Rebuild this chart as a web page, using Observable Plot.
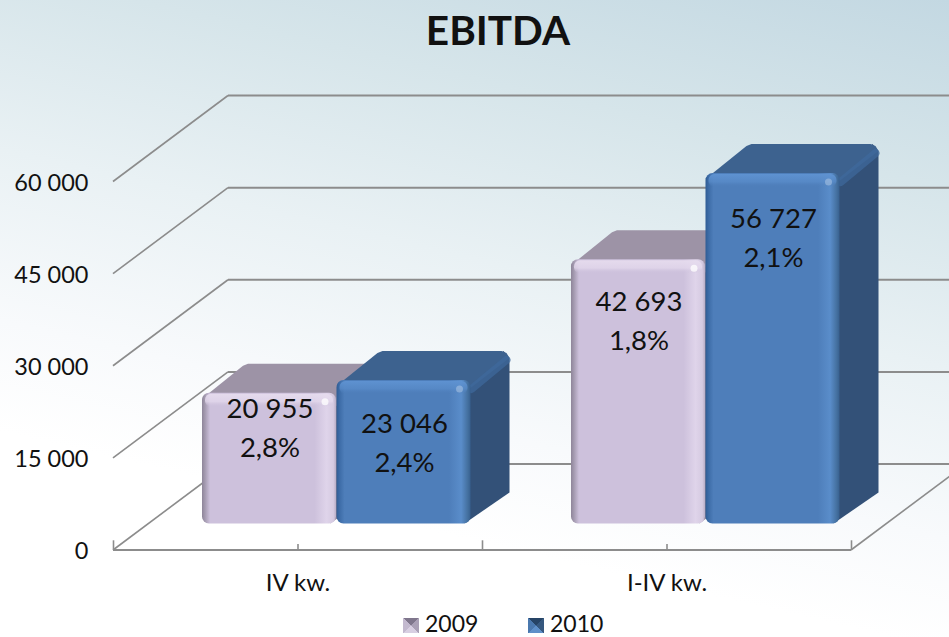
<!DOCTYPE html>
<html lang="pl">
<head>
<meta charset="utf-8">
<script src="https://cdn.jsdelivr.net/npm/d3@7"></script>
<script src="https://cdn.jsdelivr.net/npm/@observablehq/plot@0.6"></script>
<style>
  html, body { margin: 0; padding: 0; width: 949px; height: 637px; overflow: hidden; }
  body { background: linear-gradient(193deg, #c3d8e2 0%, #d6e5ea 22%, #e9f1f4 43%, #f8fafc 63%, #ffffff 76%); font-family: Lato, sans-serif; color: #111; }
  #title { height: 62px; line-height: 59px; text-align: center; font-weight: 700; font-size: 40.5px; padding-left: 47px; box-sizing: border-box; }
  #legend { position: relative; height: 25px; font-size: 23px; }
  .item { position: absolute; top: 0px; line-height: 22px; }
  .sw { position: absolute; top: 6px; width: 16px; height: 15px; }
</style>
</head>
<body>
<div id="title">EBITDA</div>
<div id="chart"></div>
<div id="legend">
  <span class="sw" style="left:403px;background:conic-gradient(from 45deg,#aaa0b6 0 25%,#d8cfe2 0 50%,#c3b9cf 0 75%,#7f768c 0)"></span>
  <span class="item" style="left:425px">2009</span>
  <span class="sw" style="left:528px;background:conic-gradient(from 45deg,#36587f 0 25%,#5f90c9 0 50%,#4a78ae 0 75%,#264466 0)"></span>
  <span class="item" style="left:550px">2010</span>
</div>
<script>
const categories = ["IV kw.", "I-IV kw."];
const values2009 = [20955, 42693];
const values2010 = [23046, 56727];
const share2009 = ["2,8%", "1,8%"];
const share2010 = ["2,4%", "2,1%"];
const yTicks = [0, 15000, 30000, 45000, 60000];

// 3D projection of the chart box, in pixels
const depthX = 115, depthY = 86;      // floor front to back wall
const floorX = 39, floorY = 26;       // floor front to bar front
const barDepthX = 39, barDepthY = 30; // bar front to bar back
const barW = 134, bandW = 369;

const fmt = d3.formatLocale({decimal: ",", thousands: " ", grouping: [3], currency: ["", ""]}).format(",d");
const NS = "http://www.w3.org/2000/svg";
const el = (name, attrs) => {
  const n = document.createElementNS(NS, name);
  for (const k in attrs) n.setAttribute(k, attrs[k]);
  return n;
};
const pts = a => a.map(p => p.join(",")).join(" ");

function defsMark() {
  const defs = el("defs", {});
  const grad = (id, stops, vertical) => {
    const g = el("linearGradient", vertical ? {id, x1: 0, x2: 0, y1: 0, y2: 1} : {id, x1: 0, x2: 1, y1: 0, y2: 0});
    stops.forEach(([o, c, a]) => g.appendChild(el("stop", {offset: o, "stop-color": c, "stop-opacity": a ?? 1})));
    defs.appendChild(g);
  };
  grad("front2009", [[0, "#8e8599"], [.025, "#a79db3"], [.06, "#cdc1dc"], [.84, "#cdc1dc"], [.93, "#dfd4ea"], [.98, "#d5cae1"], [1, "#b9aec6"]]);
  grad("front2010", [[0, "#2f5c94"], [.025, "#3e6da8"], [.06, "#4e7eba"], [.84, "#4e7eba"], [.93, "#5a8dca"], [.98, "#44709f"], [1, "#37608f"]]);
  grad("bevel2009", [[0, "#e6dcee", .95], [.6, "#e4d9ed", .75], [1, "#cdc1dc", 0]], true);
  grad("bevel2010", [[0, "#5f93d2", .95], [.6, "#5a8dcb", .7], [1, "#4e7eba", 0]], true);
  const g = el("g", {});
  g.appendChild(defs);
  return g;
}

function bar3d(series, topColor, sideColor, edgeColor) {
  return function (index, scales, values, dimensions, context, next) {
    const g = next(index, scales, values, dimensions, context);
    g.querySelectorAll("rect").forEach(r => {
      const x = +r.getAttribute("x"), y = +r.getAttribute("y"),
            w = +r.getAttribute("width"), h = +r.getAttribute("height");
      const R = x + w, B = y + h, bx = barDepthX, by = barDepthY;
      g.insertBefore(el("polygon", {fill: sideColor, points: pts([[R - 8, y + 6], [R + bx - 6, y - by + 1], [R + bx, y - by + 8], [R + bx, B - by - 1], [R - 6, B]])}), r);
      g.insertBefore(el("polygon", {fill: topColor, points: pts([[x, y + 6], [x + 41, y - by + 3], [x + 46, y - by + 1], [R + bx - 8, y - by + 1], [R + bx - 3, y - by + 3], [R + bx, y - by + 8], [R, y + 8]])}), r);
      g.insertBefore(el("line", {x1: R + 1, y1: y + 9, x2: R + bx - 3, y2: y - by + 10, stroke: edgeColor, "stroke-width": 8, "stroke-linecap": "round", "stroke-opacity": .7}), r);
      r.setAttribute("rx", 7);
      r.setAttribute("ry", 7);
      const bevel = el("rect", {x: x + 3, y: y + 1, width: w - 6, height: 13, rx: 6, fill: `url(#bevel${series})`});
      g.appendChild(bevel);
      g.appendChild(el("circle", {cx: R - 11, cy: y + 9, r: 3.5, fill: "#ffffff", "fill-opacity": series === "2009" ? .75 : .28}));
    });
    return g;
  };
}

function slant(from) {
  return function (index, scales, values, dimensions, context, next) {
    const g = next(index, scales, values, dimensions, context);
    g.querySelectorAll("line").forEach(l => {
      const x = l.getAttribute(from), y = l.getAttribute("y1");
      l.setAttribute("x1", x);
      l.setAttribute("x2", +x + depthX);
      l.setAttribute("y2", +y - depthY);
    });
    return g;
  };
}

const rows = (vals, share) => categories.map((c, i) => ({cat: c, v: vals[i], label: fmt(vals[i]) + "\n" + share[i]}));
const rows2009 = rows(values2009, share2009);
const rows2010 = rows(values2010, share2010);
const inset = (bandW - barW) / 2;
const dx2009 = floorX - barW / 2 - 0.5, dx2010 = floorX + barW / 2;
const grey = "#8c8c8c";
const textMark = (row, dx, dy) => Plot.text([row], {
  x: "cat", y: "v", text: "label", dx: dx + 0.5, dy: dy - floorY, fontSize: 27.5, lineHeight: 1.42, fill: "#111", lineAnchor: "middle"
});

const chart = Plot.plot({
  width: 949,
  height: 550,
  marginLeft: 113,
  marginRight: 98,
  marginTop: 119,
  marginBottom: 62.5,
  style: {background: "transparent", fontFamily: "Lato, sans-serif", color: "#111", overflow: "visible"},
  x: {domain: categories, padding: 0, axis: null},
  y: {domain: [0, 60000], axis: null},
  marks: [
    () => defsMark(),
    Plot.ruleY(yTicks, {stroke: grey, strokeWidth: 2, dx: depthX, dy: -depthY}),
    Plot.ruleY(yTicks, {stroke: grey, strokeWidth: 1.6, render: slant("x1")}),
    Plot.ruleY([0], {stroke: grey, strokeWidth: 1.6, render: slant("x2")}),
    Plot.ruleY([0], {stroke: grey, strokeWidth: 2}),
    Plot.ruleX(categories, {y1: 0, y2: 900, stroke: grey, strokeWidth: 1.6}),
    Plot.ruleX(categories, {y1: 0, y2: 1500, stroke: grey, strokeWidth: 1.6, dx: -bandW / 2}),
    Plot.ruleX(categories.slice(-1), {y1: 0, y2: 1500, stroke: grey, strokeWidth: 1.6, dx: bandW / 2}),
    Plot.barY(rows2009, {x: "cat", y: "v", fill: "url(#front2009)", insetLeft: inset, insetRight: inset, insetTop: -2,
      dx: dx2009, dy: -floorY, render: bar3d("2009", "#9d93a6", "#8c8296", "#a79db0")}),
    Plot.barY(rows2010, {x: "cat", y: "v", fill: "url(#front2010)", insetLeft: inset, insetRight: inset, insetTop: -2,
      dx: dx2010, dy: -floorY, render: bar3d("2010", "#3d628f", "#335178", "#3f6a9c")}),
    textMark(rows2009[0], dx2009, 30),
    textMark(rows2009[1], dx2009, 56),
    textMark(rows2010[0], dx2010, 58),
    textMark(rows2010[1], dx2010, 59.5),
    Plot.axisY({ticks: yTicks, tickSize: 0, tickPadding: 25, tickFormat: fmt, fontSize: 23.5, label: null, anchor: "left", dy: 1.5}),
    Plot.axisX({tickSize: 0, tickPadding: 24, fontSize: 24, label: null, anchor: "bottom", lineAnchor: "top"})
  ]
});
document.getElementById("chart").appendChild(chart);
</script>
</body>
</html>
